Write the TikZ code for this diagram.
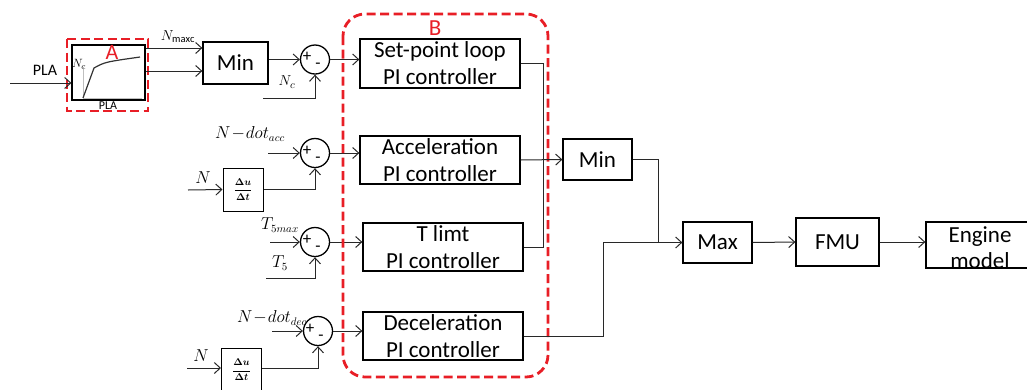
\documentclass[tikz,border=0pt]{standalone}
\usepackage{bm}
\usepackage{fontspec}
\setmainfont{Carlito}
\usetikzlibrary{arrows.meta}
\definecolor{hired}{RGB}{232,30,38}
\definecolor{ln}{RGB}{40,40,40}
\tikzset{
  blk/.style={draw=black, line width=1.3pt, align=center, inner sep=0pt,
    font=\fontsize{23}{27}\selectfont},
  sumc/.style={draw=black, line width=1.3pt, circle, minimum size=29pt, inner sep=0pt},
  conn/.style={draw=ln, line width=1pt},
  arr/.style={conn, -{Straight Barb[length=6pt,width=11pt,line width=1pt]}},
  reddash/.style={draw=hired, line width=2.8pt, dash pattern=on 9pt off 4.5pt},
  mlab/.style={inner sep=0pt, font=\fontsize{15}{17}\selectfont},
  sgn/.style={inner sep=0pt, font=\fontsize{17}{18}\selectfont},
  dbox/.style={draw=black, line width=1pt, inner sep=0pt, font=\fontsize{10}{12}\selectfont}
}
\newcommand{\dudt}{$\displaystyle\bm{\frac{\Delta u}{\Delta t}}$}
\begin{document}
\begin{tikzpicture}[x=1pt,y=-1pt]
\useasboundingbox (0,0) rectangle (1027,389);

% ---- block A (PLA map) ----
\node[draw=black, line width=1.2pt, minimum width=73pt, minimum height=55pt, inner sep=0pt] (graph) at (108.5,72.5) {};
\draw[black!25, line width=0.8pt] (83,67) -- (83,98) -- (142,98);
\draw[black!80, line width=1.2pt] (83,98) -- (94,68) .. controls (105,62) .. (140,57);
\node[mlab, font=\fontsize{13}{14}\selectfont] (nclab) at (79,64) {$N_c$};
\node[inner sep=0pt, font=\fontsize{12}{13}\selectfont] (plasmall) at (108,106) {PLA};
\draw[reddash] (67,39) rectangle (148,111);
\node[inner sep=0pt, text=hired, font=\fontsize{22}{23}\selectfont] (alab) at (112,52) {A};

\coordinate (plain) at (10,83);
\node[inner sep=0pt, font=\fontsize{16}{17}\selectfont] (plalab) at (45,70) {PLA};
\draw[arr] (plain) -- (graph.west |- plain);

% ---- Min 1 ----
\node[blk, minimum width=65pt, minimum height=42pt] (min1) at (235.5,63) {Min};
\coordinate (ya) at (0,48);
\coordinate (yb) at (0,71);
\draw[arr] (graph.east |- ya) -- (min1.west |- ya);
\draw[arr] (graph.east |- yb) -- (min1.west |- yb);
\node[mlab] (nmaxc) at (178,37) {$N_{\mathrm{maxc}}$};

% ---- sum 1 ----
\node[sumc] (s1) at (315,59.5) {};
\node[sgn] (s1p) at (307,57) {+};
\node[sgn] (s1m) at (318,66) {-};
\draw[arr] (min1.east |- s1.west) -- (s1.west);
\coordinate (nc) at (263,98);
\draw[arr] (nc) -| (s1.south);
\node[mlab] (nclab2) at (287,82) {$N_c$};

% ---- sum 2 ----
\node[sumc] (s2) at (315,153) {};
\node[sgn] (s2p) at (307,151) {+};
\node[sgn] (s2m) at (318,160) {-};
\coordinate (ndacc) at (268,153);
\draw[arr] (ndacc) -- (s2.west);
\node[mlab, font=\fontsize{16}{17}\selectfont] (ndacclab) at (250,134) {$N\!-\!dot_{acc}$};
\node[dbox, minimum width=40pt, minimum height=43pt] (d1) at (243,189.5) {\dudt};
\coordinate (nin1) at (188,190);
\draw[arr] (nin1) -- (d1.west);
\node[mlab, font=\fontsize{16}{17}\selectfont] (n1lab) at (203,178) {$N$};
\draw[arr] (d1.east) -| (s2.south);

% ---- sum 3 ----
\node[sumc] (s3) at (315,242) {};
\node[sgn] (s3p) at (307,240) {+};
\node[sgn] (s3m) at (318,249) {-};
\coordinate (t5m) at (270,242);
\draw[arr] (t5m) -- (s3.west);
\node[mlab, font=\fontsize{16}{17}\selectfont] (t5mlab) at (280,225) {$T_{5max}$};
\coordinate (t5) at (266,278);
\draw[arr] (t5) -| (s3.south);
\node[mlab, font=\fontsize{16}{17}\selectfont] (t5lab) at (280,263) {$T_5$};

% ---- sum 4 ----
\node[sumc] (s4) at (318,331) {};
\node[sgn] (s4p) at (310,329) {+};
\node[sgn] (s4m) at (321,338) {-};
\coordinate (nddec) at (272,331);
\draw[arr] (nddec) -- (s4.west);
\node[mlab, font=\fontsize{16}{17}\selectfont] (nddeclab) at (272,318) {$N\!-\!dot_{dec}$};
\node[dbox, minimum width=40pt, minimum height=44pt] (d2) at (241.5,370) {\dudt};
\coordinate (nin2) at (187,368);
\draw[arr] (nin2) -- (d2.west |- nin2);
\node[mlab, font=\fontsize{16}{17}\selectfont] (n2lab) at (201,356) {$N$};
\draw[arr] (d2.east |- nin2) -| (s4.south);

% ---- PI controllers ----
\node[blk, minimum width=160pt, minimum height=49pt] (sp) at (440,63.5) {Set-point loop\\PI controller};
\node[blk, minimum width=160pt, minimum height=48pt] (acc) at (440,160) {Acceleration\\PI controller};
\node[blk, minimum width=160pt, minimum height=48pt] (tl) at (443,247) {T limt\\PI controller};
\node[blk, minimum width=160pt, minimum height=48pt] (dec) at (443,336) {Deceleration\\PI controller};
\draw[arr] (s1.east) -- (sp.west |- s1.east);
\draw[arr] (s2.east) -- (acc.west |- s2.east);
\draw[arr] (s3.east) -- (tl.west |- s3.east);
\draw[arr] (s4.east) -- (dec.west |- s4.east);

% ---- red box B ----
\draw[reddash, rounded corners=22pt] (343,14) rectangle (548,377);
\node[inner sep=0pt, text=hired, font=\fontsize{23}{24}\selectfont] (blab) at (435,28) {B};

% ---- right side ----
\node[blk, minimum width=69pt, minimum height=41pt] (min2) at (597.5,159.5) {Min};
\node[blk, minimum width=69pt, minimum height=41pt] (max) at (717.5,242.5) {Max};
\node[blk, minimum width=83pt, minimum height=48pt] (fmu) at (837.5,242) {FMU};
\node[draw=black, line width=1.3pt, minimum width=116pt, minimum height=46pt, inner sep=0pt] (eng) at (984,245) {};
\node[inner sep=0pt, align=center, font=\fontsize{23}{26}\selectfont] (engtxt) at (980,248) {Engine\\model};

\coordinate (jx) at (543,0);
\coordinate (jm) at (658,0);
\coordinate (jd) at (603,0);
\draw[conn] (sp.east) -| (jx |- tl.east) -- (tl.east);
\draw[arr] (acc.east) -- (min2.west);
\draw[arr] (min2.east) -| (jm |- max.west) -- (max.west);
\draw[conn] (dec.east) -| (jd |- max.west) -- (jm |- max.west);
\draw[arr] (max.east) -- (fmu.west);
\draw[arr] (fmu.east) -- (eng.west |- fmu.east);
\end{tikzpicture}
\end{document}
